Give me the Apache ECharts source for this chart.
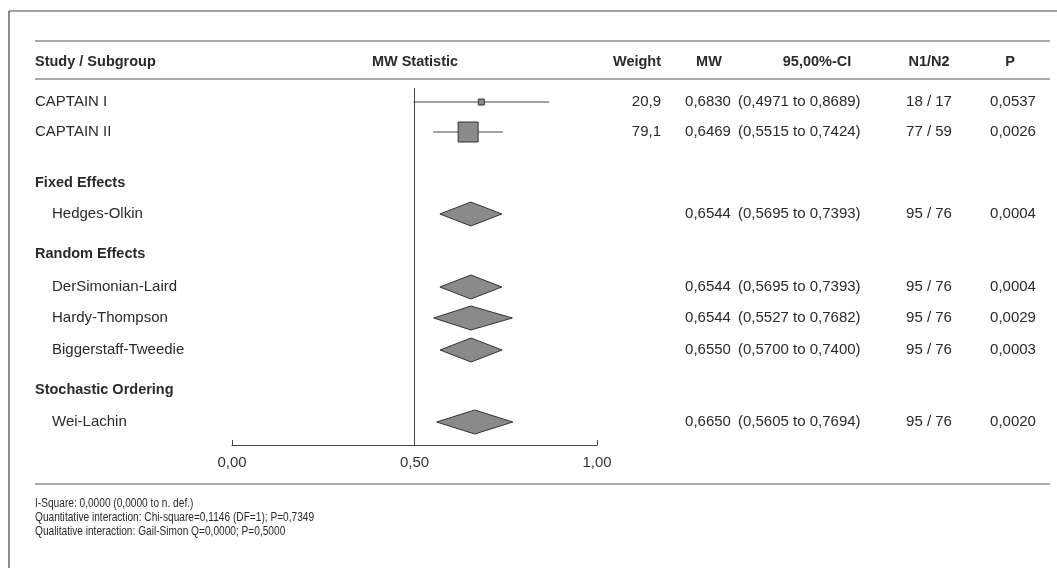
<!DOCTYPE html>
<html>
<head>
<meta charset="utf-8">
<script src="https://cdn.jsdelivr.net/npm/echarts@6/dist/echarts.min.js"></script>
<style>
html,body{margin:0;padding:0;background:#fff;}
#chart{width:1057px;height:568px;}
</style>
</head>
<body>
<div id="chart"></div>
<script>
// ---------------- data ----------------
const rowLabels = ['CAPTAIN I','CAPTAIN II','Fixed Effects','Hedges-Olkin','Random Effects','DerSimonian-Laird','Hardy-Thompson','Biggerstaff-Tweedie','Stochastic Ordering','Wei-Lachin'];
const rowKind   = ['study','study','group','pooled','group','pooled','pooled','pooled','group','pooled'];
const weights   = [20.9, 79.1, null, null, null, null, null, null, null, null];
const mwValues  = [0.6830, 0.6469, null, 0.6544, null, 0.6544, 0.6544, 0.6550, null, 0.6650];
const ciLower   = [0.4971, 0.5515, null, 0.5695, null, 0.5695, 0.5527, 0.5700, null, 0.5605];
const ciUpper   = [0.8689, 0.7424, null, 0.7393, null, 0.7393, 0.7682, 0.7400, null, 0.7694];
const nCounts   = ['18 / 17','77 / 59',null,'95 / 76',null,'95 / 76','95 / 76','95 / 76',null,'95 / 76'];
const pValues   = ['0,0537','0,0026',null,'0,0004',null,'0,0004','0,0029','0,0003',null,'0,0020'];
const headers   = ['Study / Subgroup','MW Statistic','Weight','MW','95,00%-CI','N1/N2','P'];
const xTicks    = [0, 0.5, 1];
const footnotes = [
  'I-Square: 0,0000 (0,0000 to n. def.)',
  'Quantitative interaction: Chi-square=0,1146 (DF=1); P=0,7349',
  'Qualitative interaction: Gail-Simon Q=0,0000; P=0,5000'
];

// ---------------- layout ----------------
const rowPos = [0, 30, 81, 112, 152, 185, 216, 248, 288, 320]; // vertical slots on the row scale
const yMin = -14, yMax = 343;
const gridTop = 88, gridBottom = 123;
const colX = {name: 35, indent: 52, weight: 661, mw: 708, ci: 738, n: 929, p: 1013};
const headerX = [35, 415, 637, 709, 817, 929, 1010];
const TXT = '#2a2a2a';
const FAM = '"Liberation Sans", Arial, sans-serif';
const FONT = '15px ' + FAM;
const BFONT = 'bold 14.5px ' + FAM;

function fmt(v, d) { return v.toFixed(d).replace('.', ','); }

const forestData = rowLabels.map((_, i) => [mwValues[i], rowPos[i], ciLower[i], ciUpper[i], i]);
const textData = rowLabels.map((_, i) => [0, rowPos[i], i]);

const chart = echarts.init(document.getElementById('chart'), null, {renderer: 'canvas'});

const option = {
  animation: false,
  backgroundColor: '#fff',
  grid: [
    {left: 232, right: 1057 - 597, top: gridTop, bottom: gridBottom, containLabel: false},
    {left: 0, right: 0, top: gridTop, bottom: gridBottom, containLabel: false}
  ],
  xAxis: [
    {
      gridIndex: 0, type: 'value', min: 0, max: 1, interval: 0.5, position: 'bottom',
      axisLine: {show: true, onZero: false, lineStyle: {color: '#444', width: 1}},
      axisTick: {show: true, inside: true, length: 5, lineStyle: {color: '#444'}},
      splitLine: {show: false},
      axisLabel: {color: '#333', fontSize: 15, fontFamily: FAM, margin: 10,
        formatter: v => xTicks.includes(v) ? fmt(v, 2) : ''}
    },
    {gridIndex: 1, type: 'value', min: 0, max: 1057, show: false}
  ],
  yAxis: [
    {gridIndex: 0, type: 'value', min: yMin, max: yMax, inverse: true, show: false},
    {gridIndex: 1, type: 'value', min: yMin, max: yMax, inverse: true, show: false}
  ],
  series: [
    {
      type: 'custom', xAxisIndex: 0, yAxisIndex: 0, silent: true, clip: false,
      data: forestData.filter(d => d[0] !== null),
      encode: {x: 0, y: 1},
      renderItem: function (params, api) {
        const i = api.value(4);
        const c = api.coord([api.value(0), api.value(1)]);
        const lo = api.coord([api.value(2), api.value(1)]);
        const hi = api.coord([api.value(3), api.value(1)]);
        if (rowKind[i] === 'study') {
          const s = Math.max(6, weights[i] / 79.1 * 20);
          return {type: 'group', children: [
            {type: 'line', shape: {x1: lo[0], y1: c[1], x2: hi[0], y2: c[1]}, style: {stroke: '#444', lineWidth: 1}},
            {type: 'rect', shape: {x: c[0] - s / 2, y: c[1] - s / 2, width: s, height: s},
              style: {fill: '#8a8a8a', stroke: '#333', lineWidth: 1}}
          ]};
        }
        const h = 12;
        return {type: 'polygon', shape: {points: [[lo[0], c[1]], [c[0], c[1] - h], [hi[0], c[1]], [c[0], c[1] + h]]},
          style: {fill: '#8a8a8a', stroke: '#333', lineWidth: 1}};
      },
      markLine: {
        silent: true, symbol: 'none', label: {show: false},
        lineStyle: {color: '#444', width: 1, type: 'solid'},
        data: [{xAxis: 0.5}]
      }
    },
    {
      type: 'custom', xAxisIndex: 1, yAxisIndex: 1, silent: true, clip: false,
      data: textData,
      encode: {x: 0, y: 1},
      renderItem: function (params, api) {
        const i = api.value(2);
        const y = api.coord([0, api.value(1)])[1];
        const kind = rowKind[i];
        const ch = [];
        const t = (x, text, align, bold) => ch.push({type: 'text', x: x, y: y,
          style: {text: text, fill: TXT, font: bold ? BFONT : FONT, textAlign: align, textVerticalAlign: 'middle'}});
        if (kind === 'group') { t(colX.name, rowLabels[i], 'left', true); return {type: 'group', children: ch}; }
        t(kind === 'study' ? colX.name : colX.indent, rowLabels[i], 'left', false);
        if (weights[i] !== null) t(colX.weight, fmt(weights[i], 1), 'right', false);
        t(colX.mw, fmt(mwValues[i], 4), 'center', false);
        t(colX.ci, '(' + fmt(ciLower[i], 4) + ' to ' + fmt(ciUpper[i], 4) + ')', 'left', false);
        t(colX.n, nCounts[i], 'center', false);
        t(colX.p, pValues[i], 'center', false);
        return {type: 'group', children: ch};
      }
    }
  ],
  graphic: [
    {type: 'line', shape: {x1: 9, y1: 11, x2: 1057, y2: 11}, style: {stroke: '#444', lineWidth: 1.2}},
    {type: 'line', shape: {x1: 9, y1: 11, x2: 9, y2: 568}, style: {stroke: '#444', lineWidth: 1.2}},
    {type: 'line', shape: {x1: 35, y1: 41, x2: 1050, y2: 41}, style: {stroke: '#555', lineWidth: 1}},
    {type: 'line', shape: {x1: 35, y1: 79, x2: 1050, y2: 79}, style: {stroke: '#555', lineWidth: 1}},
    {type: 'line', shape: {x1: 35, y1: 484, x2: 1050, y2: 484}, style: {stroke: '#555', lineWidth: 1}}
  ].concat(headers.map((h, k) => ({
    type: 'text', x: headerX[k], y: 62,
    style: {text: h, fill: TXT, font: BFONT, textAlign: k === 0 ? 'left' : 'center', textVerticalAlign: 'middle'}
  }))).concat(footnotes.map((f, k) => ({
    type: 'text', x: 35, y: 503 + k * 14, scaleX: 0.78,
    style: {text: f, fill: '#2a2a2a', font: '13px ' + FAM, textAlign: 'left', textVerticalAlign: 'middle'}
  })))
};

chart.setOption(option);
</script>
</body>
</html>
